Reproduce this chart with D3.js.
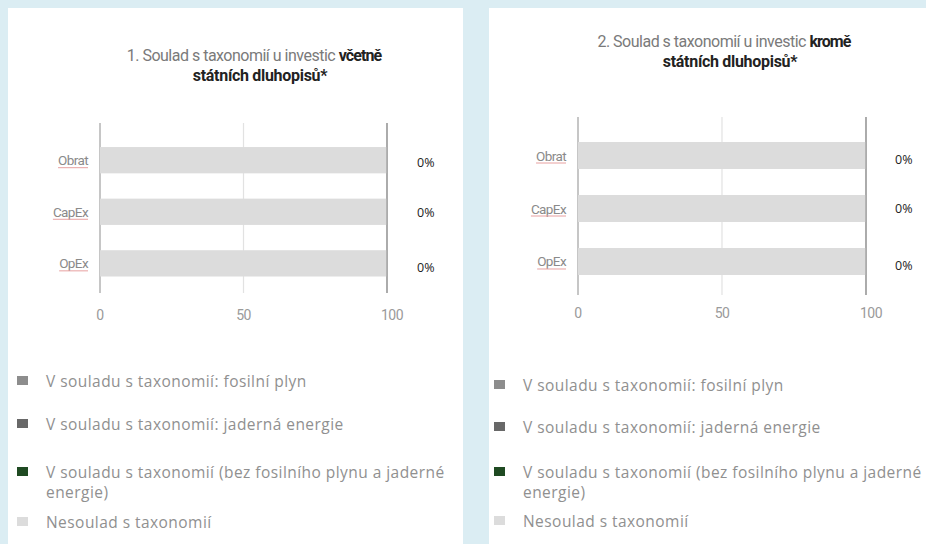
<!DOCTYPE html>
<html>
<head>
<meta charset="utf-8">
<script src="https://cdn.jsdelivr.net/npm/d3@7"></script>
<style>
  body { margin: 0; background: #dbedf3; }
  svg { display: block; }
</style>
</head>
<body>
<svg id="chart" width="926" height="544"></svg>
<script>

// data
let categories = ["Obrat", "CapEx", "OpEx"]
let legendLines = [
  ["V souladu s taxonomií: fosilní plyn"],
  ["V souladu s taxonomií: jaderná energie"],
  ["V souladu s taxonomií (bez fosilního plynu a jaderné", "energie)"],
  ["Nesoulad s taxonomií"]
]
let seriesColors = ["#8d8d8d", "#686868", "#1f4a22", "#dcdcdc"]
let xTicks = [0, 50, 100]

// chart 1 - vcetne statnich dluhopisu
let fosil1 = [0, 0, 0]
let jaderna1 = [0, 0, 0]
let bez1 = [0, 0, 0]
let nesoulad1 = [100, 100, 100]

// chart 2 - krome statnich dluhopisu
let fosil2 = [0, 0, 0]
let jaderna2 = [0, 0, 0]
let bez2 = [0, 0, 0]
let nesoulad2 = [100, 100, 100]

let svg = d3.select("#chart")

svg.append("rect")
    .attr("x", 8).attr("y", 8)
    .attr("width", 455).attr("height", 540)
    .attr("fill", "#fff")

svg.append("rect")
    .attr("x", 489).attr("y", 8)
    .attr("width", 450).attr("height", 540)
    .attr("fill", "#fff")

function buildRows(fosil, jaderna, bez, nesoulad) {
  return categories.map(function(c, i) {
    return { cat: c, s0: fosil[i], s1: jaderna[i], s2: bez[i], s3: nesoulad[i] }
  })
}

function drawPanel(rows, opt) {
  let g = svg.append("g")

  // title
  let t1 = g.append("text")
      .attr("x", opt.titleX).attr("y", opt.titleY)
      .attr("text-anchor", "middle")
      .style("font-family", "Roboto, sans-serif")
      .style("font-size", "16px")
      .style("letter-spacing", "-0.5px")
      .attr("fill", "#7a7a7a")
  t1.append("tspan").text(opt.title[0])
  t1.append("tspan").attr("fill", "#222").attr("font-weight", "bold")
      .style("letter-spacing", "-0.9px").text(opt.title[1])
  g.append("text")
      .attr("x", opt.titleX + 6).attr("y", opt.titleY + 20)
      .attr("text-anchor", "middle")
      .style("font-family", "Roboto, sans-serif")
      .style("font-size", "16px")
      .style("letter-spacing", "-0.3px")
      .attr("fill", "#222").attr("font-weight", "bold")
      .text(opt.title[2])

  let x = d3.scaleLinear().domain([0, 100]).range(opt.xRange)
  let y = d3.scaleBand().domain(categories).range(opt.yRange)
      .paddingInner(0.49).paddingOuter(0.5)

  // gridlines
  g.selectAll(".grid")
      .data(xTicks)
    .enter().append("line")
      .attr("x1", d => x(d)).attr("x2", d => x(d))
      .attr("y1", opt.axisY[0]).attr("y2", opt.axisY[1])
      .attr("stroke", d => d == 50 ? "#e2e2e2" : "#a0a0a0")
      .attr("stroke-width", 1.2)

  // stacked bars
  let keys = ["s0", "s1", "s2", "s3"]
  let stacked = d3.stack().keys(keys)(rows)

  g.selectAll(".layer")
      .data(stacked)
    .enter().append("g")
      .attr("fill", (d, i) => seriesColors[i])
    .selectAll("rect")
      .data(d => d)
    .enter().append("rect")
      .attr("x", d => x(d[0]))
      .attr("y", d => y(d.data.cat))
      .attr("width", d => x(d[1]) - x(d[0]))
      .attr("height", y.bandwidth())

  // 100 line on top of bars
  g.append("line")
      .attr("x1", x(100)).attr("x2", x(100))
      .attr("y1", opt.axisY[0]).attr("y2", opt.axisY[1])
      .attr("stroke", "#9a9a9a").attr("stroke-width", 1.2)

  // category labels (grey, red underline)
  rows.forEach(function(r) {
    let cy = y(r.cat) + y.bandwidth() / 2
    let lbl = g.append("text")
        .attr("x", x(0) - 12)
        .attr("y", cy + 5)
        .attr("text-anchor", "end")
        .style("font-family", "Roboto, sans-serif")
        .style("font-size", "13.5px")
        .style("letter-spacing", "-0.6px")
        .attr("fill", "#8a8a8a")
        .text(r.cat)
    let w = lbl.node().getComputedTextLength()
    g.append("line")
        .attr("x1", x(0) - 12 - w).attr("x2", x(0) - 12)
        .attr("y1", cy + 7.5).attr("y2", cy + 7.5)
        .attr("stroke", "#e7a0a0").attr("stroke-width", 1)
  })

  // value labels
  g.selectAll(".val")
      .data(rows)
    .enter().append("text")
      .attr("x", opt.valX)
      .attr("y", (d, i) => y(d.cat) + y.bandwidth() / 2 + opt.valDy[i])
      .style("font-family", "'Open Sans', sans-serif")
      .style("font-size", "12.5px")
      .attr("fill", "#222")
      .text(d => (d.s0 + d.s1 + d.s2) + "%")

  // x tick labels
  g.selectAll(".tick")
      .data(xTicks)
    .enter().append("text")
      .attr("x", d => x(d) + (d == 100 ? 5 : 0))
      .attr("y", opt.tickY)
      .attr("text-anchor", "middle")
      .style("font-family", "Roboto, sans-serif")
      .style("font-size", "14px")
      .style("letter-spacing", "-0.6px")
      .attr("fill", "#9a9a9a")
      .text(d => d)

  // legend
  let ly = opt.legendY
  legendLines.forEach(function(lines, i) {
    g.append("rect")
        .attr("x", opt.legendX).attr("y", ly[i] - 5)
        .attr("width", 11).attr("height", 9)
        .attr("fill", seriesColors[i])
    lines.forEach(function(txt, j) {
      g.append("text")
          .attr("x", opt.legendX + 29)
          .attr("y", ly[i] + 6 + j * 20)
          .style("font-family", "'Open Sans', sans-serif")
          .style("font-size", "15.5px")
          .style("letter-spacing", "0.45px")
          .attr("fill", "#909090")
          .text(txt)
    })
  })
}

drawPanel(buildRows(fosil1, jaderna1, bez1, nesoulad1), {
  title: ["1. Soulad  s taxonomií u investic ", "včetně", "státních dluhopisů*"],
  titleX: 254, titleY: 61,
  xRange: [100, 387],
  yRange: [121.25, 302.3],
  axisY: [123, 293],
  valX: 417, valDy: [7, 5, 9],
  tickY: 320,
  legendX: 17,
  legendY: [381, 424, 472, 522]
})

drawPanel(buildRows(fosil2, jaderna2, bez2, nesoulad2), {
  title: ["2. Soulad  s taxonomií u investic ", "kromě", "státních dluhopisů*"],
  titleX: 724, titleY: 47,
  xRange: [578, 866],
  yRange: [115.5, 301.5],
  axisY: [117, 295],
  valX: 895, valDy: [8, 4, 9],
  tickY: 318,
  legendX: 494,
  legendY: [385, 427, 472, 521]
})

</script>
</body>
</html>
